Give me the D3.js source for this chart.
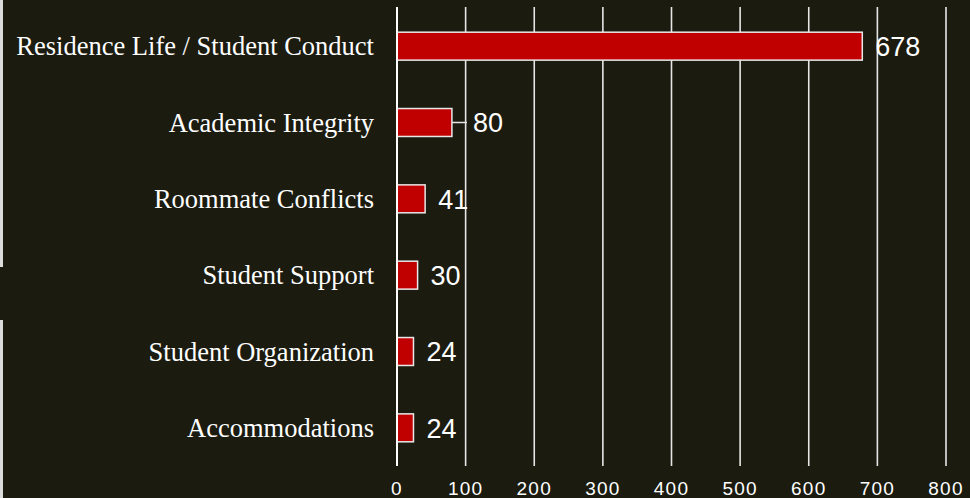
<!DOCTYPE html>
<html><head><meta charset="utf-8">
<script src="https://cdn.jsdelivr.net/npm/d3@7"></script>
<style>html,body{margin:0;padding:0;background:#1b1b10;}svg{display:block;}</style>
</head><body>
<svg id="chart" width="970" height="498"></svg>
<script>
const categories = ["Residence Life / Student Conduct","Academic Integrity","Roommate Conflicts","Student Support","Student Organization","Accommodations"];
const values = [678, 80, 41, 30, 24, 24];
const tickValues = [0,100,200,300,400,500,600,700,800];

const W = 970, H = 498;
const svg = d3.select("#chart");
svg.append("rect").attr("width",W).attr("height",H).attr("fill","#1b1b10");
// left edge strips
svg.append("rect").attr("x",0).attr("y",0).attr("width",3).attr("height",267).attr("fill","#dcdcdc");
svg.append("rect").attr("x",0).attr("y",320).attr("width",3).attr("height",178).attr("fill","#dcdcdc");

const x = d3.scaleLinear().domain([0,800]).range([397,946]);
const y = d3.scaleBand().domain(categories).range([8,466]).paddingInner(0.634).paddingOuter(0.317);

// grid
svg.append("g").selectAll("line").data(tickValues.slice(1)).join("line")
  .attr("x1",d=>x(d)).attr("x2",d=>x(d)).attr("y1",7).attr("y2",466)
  .attr("stroke","#e6e6e6").attr("stroke-width",1.6);

// bars
svg.append("g").selectAll("rect").data(values).join("rect")
  .attr("x",x(0)).attr("y",(d,i)=>y(categories[i]))
  .attr("width",d=>x(d)-x(0)).attr("height",y.bandwidth())
  .attr("fill","#c00000").attr("stroke","#e8e8e8").attr("stroke-width",1.5);

// axis line at 0
svg.append("line").attr("x1",x(0)).attr("x2",x(0)).attr("y1",7).attr("y2",466)
  .attr("stroke","#ffffff").attr("stroke-width",2);

// category labels
svg.append("g").selectAll("text").data(categories).join("text")
  .attr("x",374).attr("y",d=>y(d)+y.bandwidth()/2).attr("dy","0.35em")
  .attr("text-anchor","end").attr("fill","#ffffff")
  .attr("font-family","'Liberation Serif', 'Times New Roman', serif").attr("font-size",26.5)
  .text(d=>d);

// value labels (the 80 label is pushed right with a leader line)
const nudge = v => v === 80 ? 21 : 13;
values.forEach((v,i)=>{
  const cy = y(categories[i]) + y.bandwidth()/2;
  if (v === 80) {
    svg.append("line").attr("x1",x(v)).attr("x2",x(v)+15).attr("y1",cy).attr("y2",cy)
      .attr("stroke","#e6e6e6").attr("stroke-width",1.5);
  }
  svg.append("text").attr("x",x(v)+nudge(v)).attr("y",cy).attr("dy","0.36em")
    .attr("fill","#ffffff").attr("font-family","'Liberation Sans', Arial, sans-serif")
    .attr("font-size",27).text(v);
});

// tick labels
svg.append("g").selectAll("text").data(tickValues).join("text")
  .attr("x",d=>x(d)).attr("y",495).attr("text-anchor","middle")
  .attr("fill","#ffffff").attr("font-family","'Liberation Sans', Arial, sans-serif")
  .attr("font-size",19).attr("letter-spacing","1.2px").text(d=>d);
</script>
</body></html>
